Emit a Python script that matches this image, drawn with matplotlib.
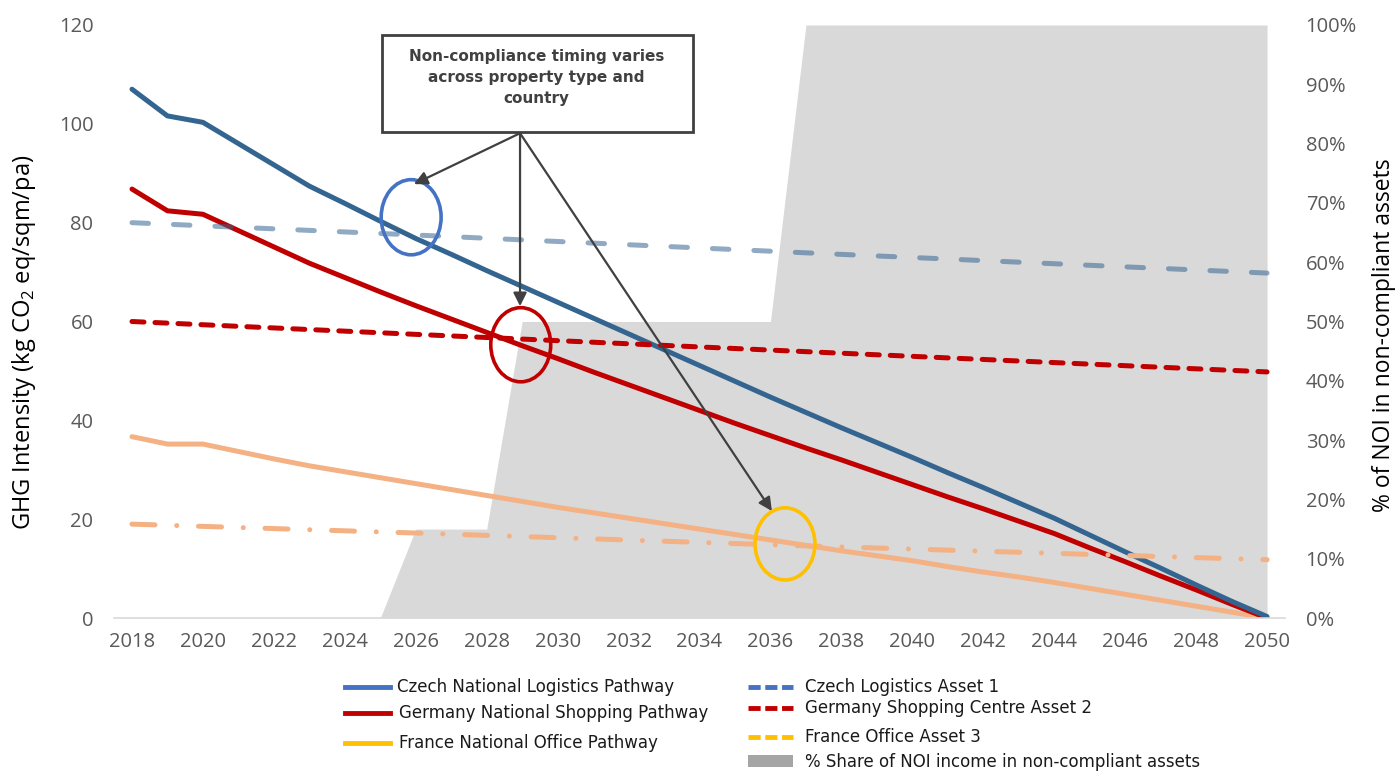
import numpy as np
import matplotlib
matplotlib.use("Agg")
import matplotlib.pyplot as plt
from matplotlib.patches import Ellipse, Rectangle
from matplotlib.lines import Line2D
from matplotlib.ticker import PercentFormatter

plt.rcParams['font.family'] = ['Open Sans', 'DejaVu Sans']
plt.rcParams['mathtext.fontset'] = 'custom'
plt.rcParams['mathtext.rm'] = 'Open Sans'

################ DATA ################

years = list(range(2018, 2051))

# national pathways (kg CO2 eq/sqm/pa)
czech_pathway = [107.0, 101.6, 100.3, 96.0, 91.7, 87.4, 83.9, 80.3, 76.8, 73.6,
                 70.3, 67.1, 63.9, 60.7, 57.5, 54.3, 51.1, 47.9, 44.7, 41.6,
                 38.5, 35.5, 32.5, 29.4, 26.4, 23.3, 20.2, 16.8, 13.4, 10.1,
                 6.7, 3.4, 0.3]
germany_pathway = [86.8, 82.4, 81.7, 78.4, 75.1, 71.8, 68.9, 66.0, 63.2, 60.5,
                   57.8, 55.1, 52.5, 49.8, 47.2, 44.6, 42.0, 39.4, 36.9, 34.4,
                   32.0, 29.5, 27.0, 24.5, 22.1, 19.6, 17.1, 14.2, 11.4, 8.5,
                   5.7, 2.8, 0.0]
france_pathway = [36.7, 35.2, 35.2, 33.7, 32.2, 30.8, 29.6, 28.4, 27.2, 26.0,
                  24.8, 23.6, 22.4, 21.3, 20.2, 19.1, 18.0, 16.9, 15.8, 14.7,
                  13.6, 12.6, 11.6, 10.4, 9.3, 8.3, 7.2, 6.0, 4.8, 3.6,
                  2.4, 1.2, 0.0]

# assets, read at a few years
asset_years = [2018, 2026, 2037, 2050]
czech_asset = [80.0, 77.5, 73.9, 69.8]
germany_asset = [60.0, 57.4, 53.9, 49.8]
france_asset = [19.0, 17.2, 14.6, 11.8]

# share of NOI in non-compliant assets (%)
noi_share = [0, 0, 0, 0, 0, 0, 0, 0, 15, 15, 15, 50, 50, 50, 50, 50, 50, 50, 50,
             100, 100, 100, 100, 100, 100, 100, 100, 100, 100, 100, 100, 100, 100]

x_ticks = list(range(2018, 2051, 2))
y_ticks = [0, 20, 40, 60, 80, 100, 120]

c_blue = '#336590'
c_red = '#C00000'
c_orange = '#F4B183'
c_grey = '#404040'
c_tick = '#595959'

################ PLOT ################

fig = plt.figure(figsize=(13.95, 7.71), dpi=100)
ax = fig.add_axes([0.0819, 0.1984, 0.8391, 0.7692])
ax2 = ax.twinx()

ax2.fill_between(years, np.array(noi_share) / 100, color='#D9D9D9', lw=0)
ax2.set_ylim(0, 1)
ax2.set_yticks(np.arange(0, 1.01, 0.1))
ax2.yaxis.set_major_formatter(PercentFormatter(1.0, decimals=0))

ax.set_zorder(ax2.get_zorder() + 1)
ax.patch.set_visible(False)

lw = 3.6
ax.plot(years, france_pathway, color=c_orange, lw=lw, solid_capstyle='round')
ax.plot(years, germany_pathway, color=c_red, lw=lw, solid_capstyle='round')
ax.plot(years, czech_pathway, color=c_blue, lw=lw, solid_capstyle='round')

ax.plot(asset_years, france_asset, color=c_orange, lw=lw,
        ls=(0, (4.6, 4.35, 0.01, 4.35)), dash_capstyle='round')
ax.plot(asset_years, germany_asset, color=c_red, lw=lw,
        ls=(0, (2.4, 2.2)), dash_capstyle='round')
ax.plot(asset_years, czech_asset, color=c_blue, alpha=0.55, lw=lw,
        ls=(0, (3.3, 5.0)), dash_capstyle='round')

ax.set_xlim(2017.5, 2050.5)
ax.set_ylim(0, 120)
ax.set_xticks(x_ticks)
ax.set_yticks(y_ticks)

for a in (ax, ax2):
    for s in a.spines.values():
        s.set_visible(False)
ax.spines['bottom'].set_visible(True)
ax.spines['bottom'].set_color('#D9D9D9')
ax.spines['bottom'].set_linewidth(1.2)

ax.tick_params(axis='x', length=0, pad=10, labelsize=14.5, labelcolor=c_tick)
ax.tick_params(axis='y', length=0, pad=15, labelsize=14.5, labelcolor=c_tick)
ax2.tick_params(axis='y', length=0, pad=15, labelsize=14.5, labelcolor=c_tick)

ax.set_ylabel(r'GHG Intensity (kg CO$_\mathrm{2}$ eq/sqm/pa)', fontsize=17)
ax.yaxis.set_label_coords(-0.0655, 0.465)
ax2.set_ylabel('% of NOI in non-compliant assets', fontsize=16.5, rotation=90)
ax2.yaxis.set_label_coords(1.0745, 0.477)

# circles
ax.add_patch(Ellipse((2025.87, 81.1), 1.69, 15.2, fill=False, ec='#4472C4', lw=2.6, zorder=5))
ax.add_patch(Ellipse((2028.96, 55.3), 1.69, 15.0, fill=False, ec=c_red, lw=2.6, zorder=5))
ax.add_patch(Ellipse((2036.41, 15.0), 1.69, 14.6, fill=False, ec='#FFC000', lw=2.6, zorder=5))

# callout box
ax.add_patch(Rectangle((2025.04, 98.4), 8.77, 19.6, fc='white', ec=c_grey, lw=2, zorder=6))
ax.text(2029.40, 115.1, 'Non-compliance timing varies\nacross property type and\ncountry',
        ha='center', va='top', fontsize=11, fontweight='bold', color=c_grey,
        family='DejaVu Sans', linespacing=1.48, zorder=7)

for tip in [(2025.95, 87.8), (2028.94, 63.1), (2036.04, 21.65)]:
    ax.annotate('', xy=tip, xytext=(2028.94, 98.1),
                arrowprops=dict(arrowstyle='-|>', color=c_grey, lw=1.6,
                                mutation_scale=20, shrinkA=0, shrinkB=0),
                zorder=6)

# legend (drawn by hand to follow the reference spacing)
W, H = 1395.0, 771.0


def leg_line(x0, yc, color, ls='-'):
    fig.add_artist(Line2D([x0 / W, (x0 + 45) / W], [1 - yc / H, 1 - yc / H],
                          color=color, lw=3.5, ls=ls, transform=fig.transFigure))


def leg_text(x0, yc, s):
    fig.text(x0 / W, 1 - yc / H, s, ha='left', va='center', fontsize=12,
             family='DejaVu Sans', color='#1a1a1a')


leg_line(345, 687, '#4472C4')
leg_text(397, 687, 'Czech National Logistics Pathway')
leg_line(345, 713, c_red)
leg_text(399, 713, 'Germany National Shopping Pathway')
leg_line(345, 743, '#FFC000')
leg_text(399, 743, 'France National Office Pathway')

dash = (0, (2.5, 0.95))
leg_line(748, 687, '#4472C4', dash)
leg_text(805, 687, 'Czech Logistics Asset 1')
leg_line(748, 708, c_red, dash)
leg_text(805, 708, 'Germany Shopping Centre Asset 2')
leg_line(748, 737, '#FFC000', dash)
leg_text(805, 737, 'France Office Asset 3')
fig.add_artist(Rectangle((748 / W, 1 - 767 / H), 45 / W, 12 / H, fc='#A5A5A5', ec='none',
                         transform=fig.transFigure))
leg_text(805, 762, '% Share of NOI income in non-compliant assets')

fig.savefig('out.png', dpi=100)
